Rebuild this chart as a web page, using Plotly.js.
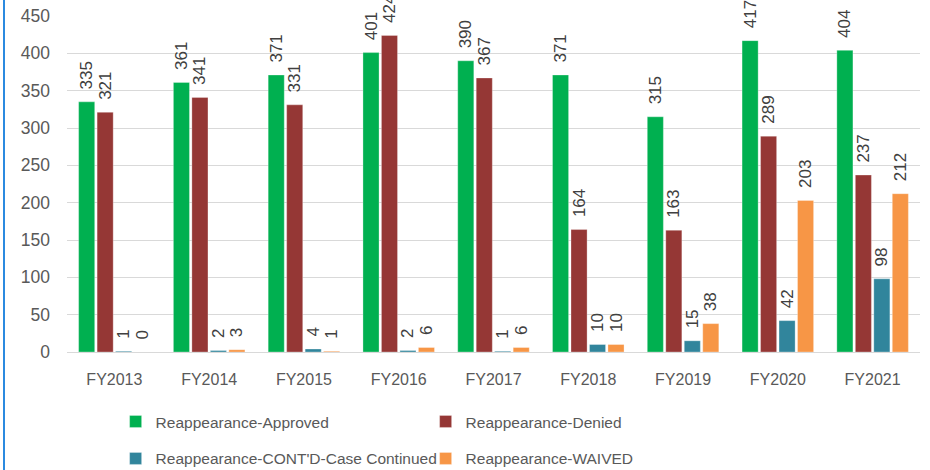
<!DOCTYPE html>
<html>
<head>
<meta charset="utf-8">
<script src="https://cdn.plot.ly/plotly-3.0.1.min.js"></script>
<style>
html,body{margin:0;padding:0;background:#fff;}
#chart{width:930px;height:470px;position:relative;}
#edge{position:absolute;left:3px;top:0;width:2px;height:470px;background:#2b8ae0;z-index:5;}
</style>
</head>
<body>
<div id="chart"></div>
<div id="edge"></div>
<script>
const categories = ["FY2013","FY2014","FY2015","FY2016","FY2017","FY2018","FY2019","FY2020","FY2021"];
const approved  = [335, 361, 371, 401, 390, 371, 315, 417, 404];
const denied    = [321, 341, 331, 424, 367, 164, 163, 289, 237];
const continued = [1, 2, 4, 2, 1, 10, 15, 42, 98];
const waived    = [0, 3, 1, 6, 6, 10, 38, 203, 212];
const seriesNames = ["Reappearance-Approved","Reappearance-Denied","Reappearance-CONT'D-Case Continued","Reappearance-WAIVED"];
const colors = ["#00B050","#953735","#31859C","#F79646"];
const yTicks = [0,50,100,150,200,250,300,350,400,450];

const FONT = "Liberation Sans, Arial, sans-serif";
const seriesData = [approved, denied, continued, waived];
const legends = ["legend","legend","legend2","legend2"];
const PAD = "\u00A0\u00A0";

const traces = seriesData.map((vals, i) => ({
  type: "bar",
  name: seriesNames[i],
  x: categories,
  y: vals,
  text: vals.map(v => PAD + String(v)),
  textposition: "outside",
  textangle: -90,
  constraintext: "none",
  cliponaxis: false,
  textfont: {family: FONT, size: 17, color: "#404040"},
  marker: {color: colors[i], line: {color: "rgba(255,255,255,0.6)", width: 0.5}},
  legend: legends[i],
  hoverinfo: "skip"
}));

const legendCommon = {
  orientation: "h",
  xanchor: "left",
  yanchor: "middle",
  x: 0.057,
  entrywidth: 265,
  font: {family: FONT, size: 15.5, color: "#595959"},
  bgcolor: "rgba(0,0,0,0)",
  traceorder: "normal"
};

const layout = {
  width: 930,
  height: 470,
  margin: {l: 67, r: 10, t: 16, b: 118, autoexpand: false},
  paper_bgcolor: "#fff",
  plot_bgcolor: "#fff",
  barmode: "group",
  bargap: 0.22,
  bargroupgap: 0.13,
  font: {family: FONT, size: 16, color: "#595959"},
  showlegend: true,
  legend: Object.assign({}, legendCommon, {y: -0.208}),
  legend2: Object.assign({}, legendCommon, {y: -0.318}),
  xaxis: {
    type: "category",
    tickfont: {family: FONT, size: 16, color: "#595959"},
    showline: true,
    linecolor: "#d9d9d9",
    linewidth: 1,
    ticks: "",
    ticklabelstandoff: 13,
    automargin: false,
    fixedrange: true
  },
  yaxis: {
    range: [0, 450],
    tickvals: yTicks,
    ticktext: yTicks.map(String),
    tickfont: {family: FONT, size: 17.5, color: "#595959"},
    gridcolor: "#d9d9d9",
    gridwidth: 1,
    zeroline: true,
    zerolinecolor: "#d9d9d9",
    zerolinewidth: 1,
    ticks: "",
    ticklabelstandoff: 16,
    automargin: false,
    fixedrange: true
  }
};

Plotly.newPlot("chart", traces, layout, {displayModeBar: false, staticPlot: true});
</script>
</body>
</html>
